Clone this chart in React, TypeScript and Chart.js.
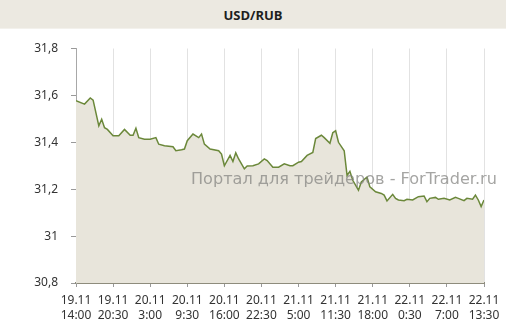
import React, { useEffect, useRef } from "react";
import { Chart, registerables } from "chart.js";

Chart.register(...registerables);

const chartTitle = "USD/RUB";
const watermarkText = "Портал для трейдеров - ForTrader.ru";

// hours elapsed since 19.11 14:00
const hours = [
  0, 1.5, 2.5, 3, 4, 4.5, 5, 5.5, 6.5, 7.5, 8.5, 9.5, 10, 10.5, 11, 12, 13, 14, 14.5, 15.5,
  17, 17.5, 18.5, 19, 19.5, 20.5, 21.5, 22, 22.5, 23.5, 25, 25.5, 26, 27, 27.5, 28, 28.5, 29.5,
  30, 31, 32, 33, 33.5, 34.5, 35.5, 36.5, 37.5, 38, 39, 39.5, 40.5, 41.5, 42, 43, 43.5, 44.5,
  45, 45.5, 46, 47, 47.5, 48, 48.5, 49.5, 50, 51, 51.5, 52.5, 53.5, 54, 54.5, 55.5, 56, 56.5,
  57.5, 58, 59, 60, 61, 61.5, 62, 63, 63.5, 64.5, 65.5, 66.5, 67, 68, 68.5, 69.5, 70, 70.5, 71, 71.5,
];
const rates = [
  31.577, 31.563, 31.589, 31.58, 31.47, 31.498, 31.462, 31.455, 31.428, 31.428, 31.455, 31.43, 31.43, 31.46, 31.42, 31.413, 31.413, 31.42, 31.392, 31.385,
  31.381, 31.364, 31.368, 31.371, 31.407, 31.435, 31.42, 31.435, 31.392, 31.371, 31.364, 31.35, 31.3, 31.344, 31.318, 31.355, 31.329, 31.287,
  31.299, 31.3, 31.308, 31.329, 31.322, 31.294, 31.294, 31.308, 31.3, 31.3, 31.315, 31.318, 31.344, 31.357, 31.416, 31.43, 31.42, 31.396,
  31.441, 31.449, 31.4, 31.364, 31.259, 31.276, 31.238, 31.196, 31.231, 31.252, 31.21, 31.189, 31.182, 31.175, 31.15, 31.178, 31.161, 31.154,
  31.151, 31.157, 31.154, 31.168, 31.171, 31.147, 31.161, 31.165, 31.157, 31.161, 31.154, 31.165, 31.161, 31.151, 31.161, 31.157, 31.175, 31.154, 31.126, 31.154,
];

const xTickDates = ["19.11", "19.11", "20.11", "20.11", "20.11", "20.11", "21.11", "21.11", "21.11", "22.11", "22.11", "22.11"];
const xTickTimes = ["14:00", "20:30", "3:00", "9:30", "16:00", "22:30", "5:00", "11:30", "18:00", "0:30", "7:00", "13:30"];
const xTickHours = [0, 6.5, 13, 19.5, 26, 32.5, 39, 45.5, 52, 58.5, 65, 71.5];
const yTicks = [30.8, 31, 31.2, 31.4, 31.6, 31.8];

const formatY = (v: number) => String(Math.round(v * 10) / 10).replace(".", ",");

export default function App() {
  const ref = useRef<HTMLCanvasElement | null>(null);

  useEffect(() => {
    const canvas = ref.current;
    if (!canvas) return;
    const watermarkPlugin = {
      id: "watermark",
      afterDatasetsDraw(chart: any) {
        const ctx = chart.ctx as CanvasRenderingContext2D;
        ctx.save();
        let size = 16;
        ctx.font = `${size}px "DejaVu Sans"`;
        const w = ctx.measureText(watermarkText).width;
        size = (size * 306) / w;
        ctx.font = `${size}px "DejaVu Sans"`;
        ctx.fillStyle = "rgba(130,130,128,0.72)";
        ctx.textAlign = "left";
        ctx.textBaseline = "alphabetic";
        ctx.fillText(watermarkText, 191, 155.5);
        ctx.restore();
      },
    };
    const tickFont = { family: "'Noto Sans', sans-serif", size: 12, lineHeight: 1.25 };
    const chart = new Chart(canvas, {
      type: "line",
      data: {
        datasets: [
          {
            data: hours.map((h, i) => ({ x: h, y: rates[i] })),
            borderColor: "#6B883A",
            borderWidth: 1.5,
            backgroundColor: "#E8E5DB",
            fill: "start",
            pointRadius: 0,
            tension: 0,
          },
        ],
      },
      options: {
        animation: false,
        responsive: false,
        maintainAspectRatio: false,
        layout: { padding: { top: 17, right: 22, bottom: 0, left: 0 } },
        plugins: {
          legend: { display: false },
          tooltip: { enabled: false },
          title: { display: false },
        },
        scales: {
          x: {
            type: "linear",
            min: 0,
            max: 71.5,
            afterBuildTicks: (scale: any) => {
              scale.ticks = xTickHours.map((v) => ({ value: v }));
            },
            afterFit: (scale: any) => {
              scale.height = 50;
            },
            ticks: {
              autoSkip: false,
              maxRotation: 0,
              minRotation: 0,
              padding: 6,
              color: "#333",
              font: tickFont,
              callback: (value: any) => {
                const i = xTickHours.findIndex((h) => Math.abs(h - Number(value)) < 0.01);
                return i >= 0 ? [xTickDates[i], xTickTimes[i]] : "";
              },
            },
            grid: { color: "#E2E2E2", tickColor: "#999", tickLength: 4, drawOnChartArea: true, lineWidth: 1 },
            border: { color: "#8E8C7C", width: 2 },
          },
          y: {
            min: 30.8,
            max: 31.8,
            afterBuildTicks: (scale: any) => {
              scale.ticks = yTicks.map((v) => ({ value: v }));
            },
            afterFit: (scale: any) => {
              scale.width = 76;
            },
            ticks: {
              padding: 13,
              color: "#333",
              font: tickFont,
              callback: (value: any) => formatY(Number(value)),
            },
            grid: { drawOnChartArea: false, tickColor: "#999", tickLength: 5 },
            border: { color: "#A8A8A8", width: 1 },
          },
        },
      },
      plugins: [watermarkPlugin],
    } as any);
    return () => chart.destroy();
  }, []);

  return (
    <div style={{ position: "absolute", left: 0, top: 0, width: 506, height: 333, background: "#fff" }}>
      <div
        style={{
          position: "absolute",
          left: 0,
          top: 0,
          width: 506,
          height: 28,
          background: "#ECE9E1",
          borderBottom: "1px solid #F3F1EC",
          textAlign: "center",
          lineHeight: "30px",
          fontFamily: "'Open Sans', sans-serif",
          fontWeight: 700,
          fontSize: 13,
          color: "#1E1E1E",
        }}
      >
        {chartTitle}
      </div>
      <canvas ref={ref} width={506} height={305} style={{ position: "absolute", left: 0, top: 28, width: 506, height: 305 }} />
    </div>
  );
}
